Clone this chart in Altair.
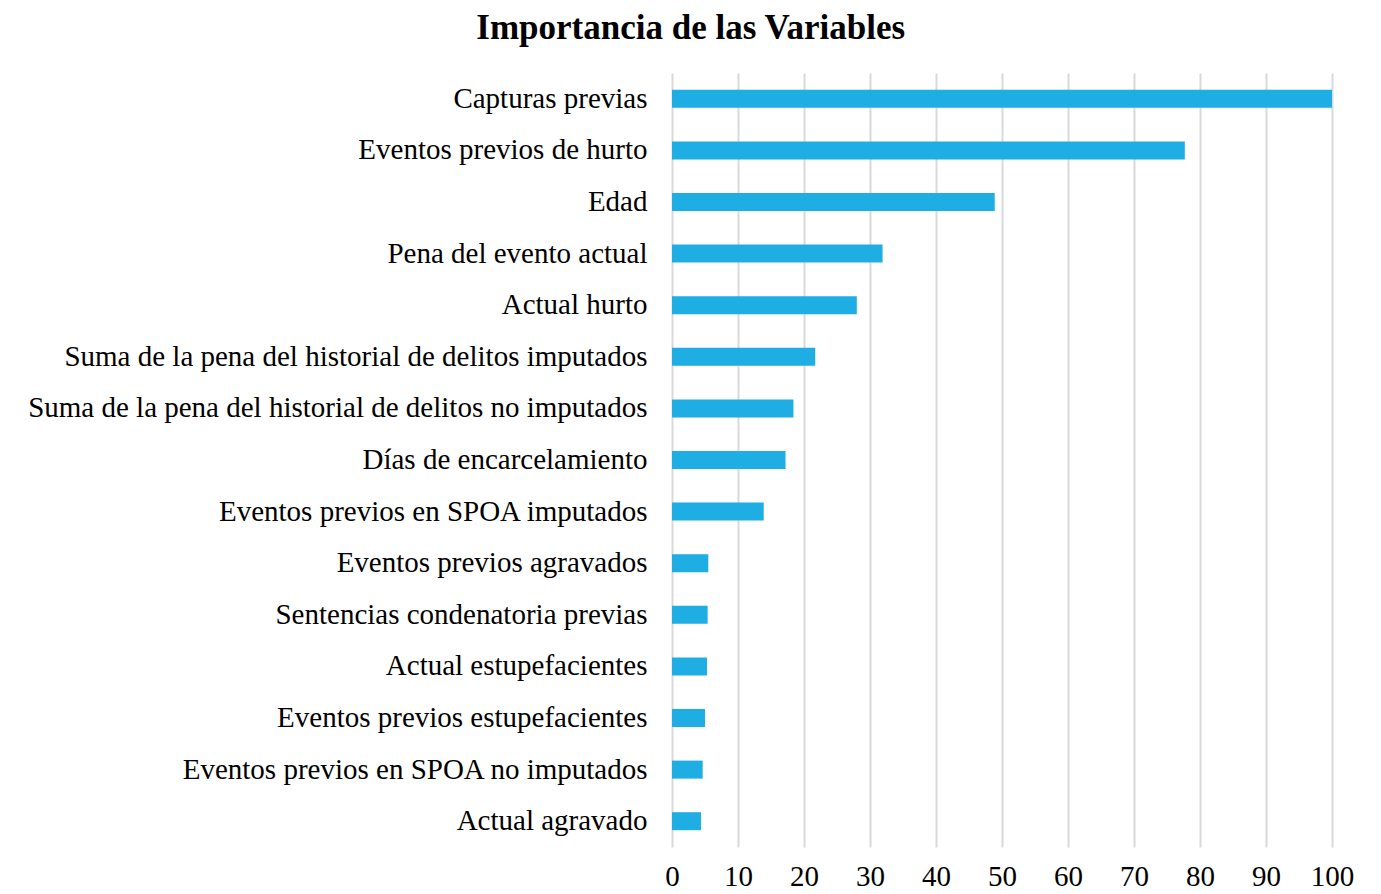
import altair as alt
import pandas as pd

variables = [
    "Capturas previas",
    "Eventos previos de hurto",
    "Edad",
    "Pena del evento actual",
    "Actual hurto",
    "Suma de la pena del historial de delitos imputados",
    "Suma de la pena del historial de delitos no imputados",
    "Días de encarcelamiento",
    "Eventos previos en SPOA imputados",
    "Eventos previos agravados",
    "Sentencias condenatoria previas",
    "Actual estupefacientes",
    "Eventos previos estupefacientes",
    "Eventos previos en SPOA no imputados",
    "Actual agravado",
]
importancia = [100, 77.7, 48.9, 31.9, 28.0, 21.7, 18.4, 17.2, 13.9, 5.5, 5.4, 5.3, 5.0, 4.65, 4.4]
x_ticks = [0, 10, 20, 30, 40, 50, 60, 70, 80, 90, 100]

df = pd.DataFrame({"Variable": variables, "Importancia": importancia})

FONT = "Liberation Serif"

chart = (
    alt.Chart(df)
    .mark_bar(color="#1EAEE4", size=18)
    .encode(
        x=alt.X(
            "Importancia:Q",
            scale=alt.Scale(domain=[0, 100], nice=False),
            axis=alt.Axis(
                values=x_ticks,
                title=None,
                domain=False,
                ticks=False,
                grid=True,
                gridColor="#D9D9D9",
                gridWidth=2,
                labelFont=FONT,
                labelFontSize=29,
                labelColor="#000000",
                labelPadding=15,
                labelFlush=False,
            ),
        ),
        y=alt.Y(
            "Variable:N",
            sort=variables,
            axis=alt.Axis(
                title=None,
                domain=False,
                ticks=False,
                labelFont=FONT,
                labelFontSize=29,
                labelColor="#000000",
                labelPadding=25,
                labelLimit=900,
            ),
        ),
    )
    .properties(
        width=660,
        height=774,
        padding={"left": 19, "top": 3, "right": 5, "bottom": 0},
        title=alt.TitleParams(
            "Importancia de las Variables",
            font=FONT,
            fontSize=35,
            fontWeight="bold",
            color="#000000",
            anchor="middle",
            frame="bounds",
            offset=27,
        ),
    )
    .configure_view(stroke=None)
)

chart.save("out.html", embed_options={"renderer": "svg", "actions": False})
